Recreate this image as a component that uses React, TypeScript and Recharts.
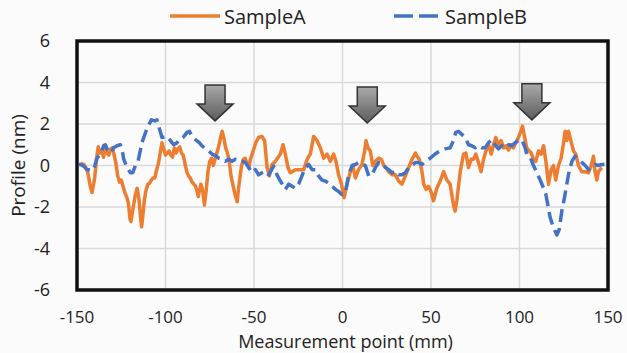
import { LineChart, Line, XAxis, YAxis, CartesianGrid, Legend, ReferenceArea, ReferenceDot } from "recharts"

const ORANGE = "#ED7D31"
const BLUE = "#4472C4"
const FONT = "'Open Sans', 'Noto Sans', sans-serif"

// SampleA profile (mm, nm)
const sampleAx = [
  -148, -146, -144, -142.5, -141.5, -140, -139, -138, -137, -136, -135, -134, -133, -132, -131, -130, -129, -128,
  -127, -126, -125, -124, -123, -122, -121, -120, -119.5, -119, -118, -117, -116, -115, -114, -113.5, -113, -112,
  -111, -110, -109, -108, -107, -106, -105, -104, -103, -102, -101, -100, -99, -98, -97, -96, -95, -94, -93, -92,
  -91, -90, -89, -88, -87, -86, -85, -84, -83, -82, -81.5, -81, -80, -79, -78, -77, -76, -75, -74, -73, -72, -71,
  -70, -69, -68, -67, -66, -65, -64, -63, -62, -61, -60, -59.5, -59, -58, -57, -56, -55, -54, -53, -52, -50.5, -49,
  -47.4, -45.5, -44, -42.6, -41.3, -39.8, -37.9, -35.1, -33.6, -32.3, -30.8, -29.5, -26.6, -23.8, -21.9, -20, -18.2,
  -16.3, -14.4, -12.5, -10.6, -8.7, -6.9, -5, -3.7, -2.2, -0.6, 0.9, 2.6, 4.4, 5.8, 7.3, 9.1, 11, 12.5, 13.3, 14.4,
  15.7, 17.1, 18.6, 20.4, 22, 23.3, 24.6, 26.1, 28, 29.9, 31.7, 33.6, 35.5, 37.4, 39.3, 41.2, 42.1, 43.4, 44.9, 45.9,
  47.2, 48.6, 50, 51.4, 53.3, 55.2, 57.1, 59, 60.8, 62.7, 63.6, 64.6, 66.5, 68.4, 69.7, 71.2, 72.7, 74, 75.3, 76.8,
  78.3, 79.7, 81.2, 82.5, 84, 85.3, 86.6, 88.1, 89.6, 91, 92.3, 93.8, 95.3, 96.6, 97.9, 99.4, 100.7, 101.7, 102.8,
  104.1, 105.5, 106.6, 107.9, 109.2, 110.7, 112.2, 113.6, 114.9, 116.4, 117.9, 119.2, 120.5, 122, 123.5, 124.9, 125.8,
  126.7, 127.7, 129, 130.5, 131.8, 133.3, 135.2, 137.1, 139, 140.5, 141.8, 142.7, 143.7, 144.6, 146.5,
]
const sampleAy = [
  0.1, 0.05, -0.3, -1.0, -1.3, -0.6, 0.3, 0.9, 0.6, 0.7, 0.4, 0.9, 0.6, 0.5, 0.8, 0.85, 0.5, 0.1,
  -0.5, -0.8, -0.7, -1.0, -1.3, -1.5, -1.8, -2.6, -2.7, -2.4, -1.9, -1.4, -1.1, -1.6, -2.6, -2.95, -2.6, -1.7,
  -1.2, -0.9, -0.85, -0.7, -0.6, -0.6, -0.2, 0.1, 0.6, 1.1, 0.8, 0.5, 0.6, 0.7, 0.5, 0.4, 0.85, 0.6, 0.8, 0.9,
  0.6, 0.5, 0.1, -0.3, -0.5, -0.6, -0.8, -0.9, -1.0, -1.3, -1.5, -1.3, -0.9, -1.2, -1.9, -1.2, -0.3, 0.2, 0.35, 0.0, 0.3, 0.6,
  0.9, 1.3, 1.65, 1.3, 0.85, 0.6, 0.2, -0.5, -0.9, -1.3, -1.6, -1.75, -1.3, -0.6, 0.0, 0.3, 0.35, 0.1, -0.1, 0.3, 0.7, 1.1,
  1.35, 1.4, 1.2, -0.1, -0.5, 0.05, 0.2, 0.55, 1.0, 0.55, -0.1, -0.35, -0.2, -0.2, -0.2, 0.3, 0.55,
  1.4, 1.2, 0.85, 0.35, 0.55, 0.2, 0.55, 0.2, -0.45, -0.9, -1.55, -0.9, -0.3, 0, -0.6, -0.2, 0.05, 0.7, 1.2, 0.85,
  0.7, 0, 0.2, 0.35, 0.3, 0, -0.1, -0.3, -0.45, -0.45, -0.75, -0.9, -0.5, -0.1, 0.3, 0.6, 0.45, 0.3, -0.3, -0.9,
  -1.15, -1.0, -1.25, -1.7, -1.1, -0.75, -0.3, -0.7, -0.9, -1.9, -2.2, -1.7, -0.3, 0.55, 0.6, -0.1, 0.3, 0.3, 0.55, 0.15,
  -0.3, 0.3, 0.75, 1.0, 0.55, 1.0, 1.35, 1.0, 1.2, 0.85, 0.95, 0.75, 1.0, 0.85, 1.1, 1.35, 1.65, 1.9, 1.4,
  0.85, 0.7, 0.6, 0.3, 0.2, 0.7, 0.55, 0.95, 0.2, -0.9, -0.2, 0, -0.7, 0, 0.35, 1.1, 1.65,
  1.2, 1.65, 1.2, 0.7, 0.55, 0, -0.3, -0.3, -0.35, 0, 0.45, -0.3, -0.7, -0.3, -0.1,
]

// SampleB profile (mm, nm)
const sampleBx = [
  -149, -148.1, -146.2, -144.3, -142.4, -140.6, -138.7, -136.8, -134.9, -134, -133, -131.1, -129.3, -127.4, -125.5,
  -124.6, -123.6, -121.7, -119.8, -118.5, -117, -115.5, -113.3, -110.4, -108, -106.1, -104.8, -103.5, -102, -99.1,
  -97.2, -95.4, -93.5, -92.2, -90.1, -87.8, -86.5, -85, -83.1, -80.9, -79.4, -77.5, -75.6, -73.7, -71.4, -69.9, -68,
  -66.2, -64.3, -62.4, -60.5, -58.6, -56.8, -54.9, -53, -51.1, -49.2, -47.4, -45.5, -43.6, -41.7, -38.9, -37, -35.1,
  -33.2, -32.3, -30.4, -28.5, -26.6, -24.8, -22.9, -21, -19.1, -17.2, -15.3, -13.5, -11.6, -9.7, -7.8, -5.9, -4,
  -2.2, -0.3, 1.6, 3.5, 5.4, 7.3, 9.1, 11, 12.9, 14.8, 16.7, 18.6, 20.4, 22.3, 24.2, 26.1, 28, 29.9, 31.7, 33.6, 35.5,
  37.4, 39.3, 41.2, 43, 44.9, 46.7, 49.5, 52.3, 55, 58, 60.8, 62.7, 64, 65.5, 67.4, 69.3, 71.2, 73, 75, 76.8, 78.7,
  80.6, 82.5, 84.4, 86.2, 88.1, 90, 91.9, 93.8, 95.7, 97.5, 99.4, 101.3, 103.2, 104.1, 106, 107.9, 109.8, 111.7,
  113.6, 114.9, 116, 117.3, 119.2, 121.1, 122.4, 123.9, 125.4, 126.7, 128, 129.6, 131.4, 133.3, 135.2, 137.1, 139,
  140.9, 142.7, 144.6, 146.5, 148,
]
const sampleBy = [
  0.05, 0.05, -0.03, -0.2, -0.2, -0.2, 0.35, 0.55, 0.95, 1.0, 0.8, 0.6, 0.85, 0.95, 1.0,
  0.8, 0.3, -0.1, -0.35, -0.35, 0, 0.2, 1.1, 1.8, 2.2, 2.15, 2.2, 1.8, 1.35, 1.4,
  1.2, 1.0, 1.1, 1.25, 1.35, 1.6, 1.65, 1.4, 1.25, 1.1, 0.95, 0.8, 0.7, 0.55, 0.45, 0.35, 0.3,
  0.2, 0.3, 0.2, 0.3, 0.2, 0.2, 0.15, -0.1, -0.35, -0.2, -0.45, -0.35, -0.27, -0.45, -0.03, -0.45, -0.75,
  -1.0, -1.15, -0.9, -1.0, -1.1, -0.9, -0.5, -0.1, 0.05, -0.2, -0.2, -0.5, -0.7, -0.75, -0.85, -1.0, -1.15,
  -1.25, -1.4, -1.3, -0.45, 0, 0.05, 0.15, 0.05, 0, -0.5, -0.45, -0.1, 0.15, 0.15, -0.1, -0.2, -0.35, -0.27, -0.45, -0.45, -0.35,
  -0.1, 0, 0.15, 0.15, 0.05, 0.2, 0.35, 0.55, 0.7, 0.8, 0.85, 1.2, 1.6, 1.65, 1.5, 1.35, 1.0, 0.95, 0.85, 0.95, 0.85,
  0.85, 1.1, 1.25, 1.0, 0.8, 0.95, 0.85, 1.0, 0.95, 1.1, 1.2, 1.25, 0.85, 0.55, 0.4, 0, -0.35, -0.7,
  -1.1, -1.4, -1.9, -2.5, -3.0, -3.35, -3.1, -2.2, -1.55, -0.9, -0.3, 0.2, 0.45, 0.3, 0.15, 0, -0.2,
  0, 0.05, 0, 0.05, 0.05,
]

const xTicks = [-150, -100, -50, 0, 50, 100, 150]
const yTicks = [-6, -4, -2, 0, 2, 4, 6]

// marked positions (mm) and arrow tip heights (nm)
const arrowX = [-72, 14, 107]
const arrowTipY = [2.15, 2.05, 2.2]

const sampleA = sampleAx.map((x, i) => ({ x, y: sampleAy[i] }))
const sampleB = sampleBx.map((x, i) => ({ x, y: sampleBy[i] }))

function DownArrow(props: any) {
  const { cx, cy } = props
  const sw = 10
  const hw = 18
  const hh = 17
  const h = 36
  const d = `M${cx},${cy} L${cx - hw},${cy - hh} L${cx - sw},${cy - hh} L${cx - sw},${cy - h} L${cx + sw},${cy - h} L${cx + sw},${cy - hh} L${cx + hw},${cy - hh} Z`
  return <path d={d} fill="url(#arrowFill)" stroke="#333" strokeWidth={1.5} strokeLinejoin="miter" />
}

function renderLegend() {
  return (
    <svg width={627} height={30} style={{ display: "block" }}>
      <line x1={170} x2={220} y1={16} y2={16} stroke={ORANGE} strokeWidth={3.5} />
      <text x={224} y={16} dominantBaseline="central" fontSize={20} fontFamily={FONT} fill="#222">
        SampleA
      </text>
      <line x1={394} x2={442} y1={16} y2={16} stroke={BLUE} strokeWidth={3.5} strokeDasharray="19 6" />
      <text x={445} y={16} dominantBaseline="central" fontSize={20} fontFamily={FONT} fill="#222">
        SampleB
      </text>
    </svg>
  )
}

export default function App() {
  return (
    <div style={{ position: "absolute", left: 0, top: 0, width: 627, height: 353, background: "#fbfbfb" }}>
      <LineChart width={627} height={353} margin={{ top: 11, right: 19, bottom: 0, left: 0 }}>
        <defs>
          <linearGradient id="arrowFill" x1="0" y1="0" x2="0" y2="1">
            <stop offset="0%" stopColor="#a9a9a9" />
            <stop offset="100%" stopColor="#5c5c5c" />
          </linearGradient>
        </defs>
        <CartesianGrid stroke="#d9d9d9" strokeWidth={1.5} />
        <XAxis
          dataKey="x"
          type="number"
          domain={[-150, 150]}
          ticks={xTicks}
          allowDataOverflow
          axisLine={false}
          tickLine={false}
          tickSize={0}
          tickMargin={21}
          height={63}
          tick={{ fontSize: 17, fill: "#222", fontFamily: FONT }}
          label={{
            value: "Measurement point (mm)",
            position: "insideBottom",
            offset: 5,
            dx: 3,
            style: { fontSize: 18, fill: "#222", fontFamily: FONT },
          }}
        />
        <YAxis
          type="number"
          domain={[-6, 6]}
          ticks={yTicks}
          allowDataOverflow
          axisLine={false}
          tickLine={false}
          tickSize={0}
          tickMargin={27}
          width={77}
          tick={{ fontSize: 18, fill: "#222", fontFamily: FONT }}
          label={{
            value: "Profile (nm)",
            angle: -90,
            position: "center",
            dx: -20,
            style: { fontSize: 19, fill: "#222", fontFamily: FONT },
          }}
        />
        <Legend verticalAlign="top" content={renderLegend} wrapperStyle={{ top: 0, left: 0, width: 627 }} />
        <Line
          data={sampleA}
          dataKey="y"
          name="SampleA"
          type="linear"
          stroke={ORANGE}
          strokeWidth={3.5}
          strokeLinejoin="round"
          dot={false}
          activeDot={false}
          isAnimationActive={false}
        />
        <Line
          data={sampleB}
          dataKey="y"
          name="SampleB"
          type="linear"
          stroke={BLUE}
          strokeWidth={3.5}
          strokeDasharray="13 6"
          strokeLinejoin="round"
          dot={false}
          activeDot={false}
          isAnimationActive={false}
        />
        <ReferenceArea x1={-150} x2={150} y1={-6} y2={6} fill="none" stroke="#111" strokeWidth={3.5} ifOverflow="visible" />
        {arrowX.map((x, i) => (
          <ReferenceDot key={x} x={x} y={arrowTipY[i]} shape={DownArrow} ifOverflow="visible" />
        ))}
      </LineChart>
    </div>
  )
}
